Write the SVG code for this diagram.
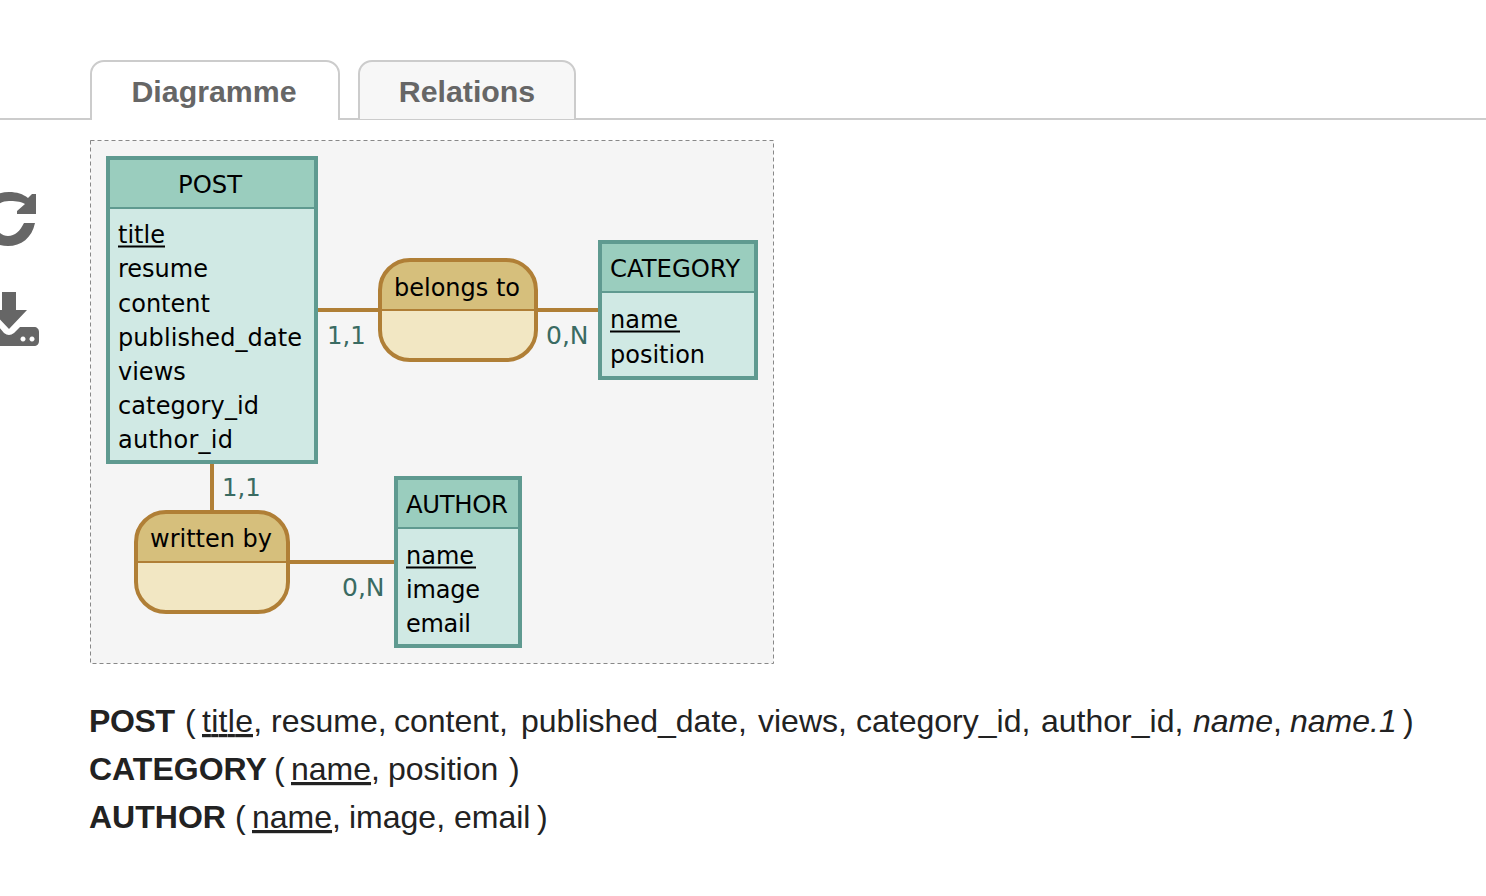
<svg xmlns="http://www.w3.org/2000/svg" width="1486" height="896" viewBox="0 0 1486 896">
<style>
.tabline{stroke:#ccc;stroke-width:2;}
.tabt{font-family:"Liberation Sans",Arial,sans-serif;font-weight:700;font-size:30.300px;fill:#666;text-anchor:middle;}
.ehead{fill:#9acdbe;}
.ebody{fill:#d0e9e4;}
.eline{stroke:#5f9a90;fill:none;}
.ahead{fill:#d6bf7c;}
.abody{fill:#f2e7c3;}
.aline{stroke:#b07f36;fill:none;}
.t{font-family:"DejaVu Sans",Verdana,sans-serif;font-size:24px;fill:#000;}
.cap{font-size:24.300px;}
.c{font-family:"DejaVu Sans",Verdana,sans-serif;font-size:25px;fill:#3a6b62;}
.c1{font-size:24.300px;}
.rel{font-family:"Liberation Sans",Arial,sans-serif;font-size:32px;fill:#222;}
.rel .b{font-weight:700;}
.rel .i{font-style:italic;}
.rel .u{text-decoration:underline;}
</style>
<rect width="1486" height="896" fill="#fff"/>
<g id="tabs">
<path d="M0 119H1486" class="tabline" fill="none"/>
<path id="tab-relations" d="M359 119V74A13 13 0 0 1 372 61H562A13 13 0 0 1 575 74V119" fill="#f7f7f7" class="tabline"/>
<path id="tab-diagramme" d="M91 120V74A13 13 0 0 1 104 61H326A13 13 0 0 1 339 74V120" fill="#fff" class="tabline"/>
<text class="tabt" x="214" y="102">Diagramme</text>
<text class="tabt" x="467" y="102">Relations</text>
</g>
<g id="icons" fill="#666">
<path d="M32 194L36 194L36 214L17 214L17 211L25 204C20 201 14 201 9 201C1 201 -6 205 -6 217H-18C-18 201 -6 192 9 192C17 192 23 194 28 198ZM35 223C32 238 21 246 8 246C-4 246 -14 240 -18 232L-6 224C-3 232 2 236 8 236C15 236 20 231 24 223Z"/>
<path d="M2 292H16V310H27L9 329L-9 310H2ZM-6 327H-1L4 333Q9 337 14 333L20 327H34C37 327 39 329 39 332V341C39 344 37 346 34 346H-6ZM23 336.500A2.500 2.500 0 1 0 23.010 336.500ZM32 336.500A2.500 2.500 0 1 0 32.010 336.500Z" fill-rule="evenodd"/>
</g>
<rect id="canvas" x="90.500" y="140.500" width="683" height="523" fill="#f5f5f5" stroke="#888" stroke-width="1" stroke-dasharray="4 3"/>
<g id="connectors" class="aline" stroke-width="4">
<path d="M316 310H600"/>
<path d="M212 462V512"/>
<path d="M288 562H396"/>
</g>
<g id="cards">
<text class="c c1" x="327" y="344">1,1</text>
<text class="c" x="546" y="344">0,N</text>
<text class="c c1" x="222" y="496">1,1</text>
<text class="c" x="342" y="596">0,N</text>
</g>
<g id="POST">
<rect class="ehead" x="108" y="158" width="208" height="50"/>
<rect class="ebody" x="108" y="208" width="208" height="254"/>
<path class="eline" stroke-width="2" d="M108 208H316"/>
<rect class="eline" stroke-width="4" x="108" y="158" width="208" height="304"/>
<text class="t cap" x="178" y="193">POST</text>
<text class="t" x="118" y="243">title</text>
<path d="M118 246.500H165" stroke="#000" stroke-width="2"/>
<text class="t" x="118" y="277">resume</text>
<text class="t" x="118" y="312">content</text>
<text class="t" x="118" y="346" textLength="184">published_date</text>
<text class="t" x="118" y="380">views</text>
<text class="t" x="118" y="414" textLength="141">category_id</text>
<text class="t" x="118" y="448" textLength="115">author_id</text>
</g>
<g id="CATEGORY">
<rect class="ehead" x="600" y="242" width="156" height="50"/>
<rect class="ebody" x="600" y="292" width="156" height="86"/>
<path class="eline" stroke-width="2" d="M600 292H756"/>
<rect class="eline" stroke-width="4" x="600" y="242" width="156" height="136"/>
<text class="t cap" x="610" y="277">CATEGORY</text>
<text class="t" x="610" y="328">name</text>
<path d="M610 331.500H680" stroke="#000" stroke-width="2"/>
<text class="t" x="610" y="362.500">position</text>
</g>
<g id="AUTHOR">
<rect class="ehead" x="396" y="478" width="124" height="50"/>
<rect class="ebody" x="396" y="528" width="124" height="118"/>
<path class="eline" stroke-width="2" d="M396 528H520"/>
<rect class="eline" stroke-width="4" x="396" y="478" width="124" height="168"/>
<text class="t cap" x="406" y="513" textLength="102">AUTHOR</text>
<text class="t" x="406" y="564">name</text>
<path d="M406 567.500H476" stroke="#000" stroke-width="2"/>
<text class="t" x="406" y="598" textLength="74">image</text>
<text class="t" x="406" y="632" textLength="65">email</text>
</g>
<g id="belongs-to">
<path class="ahead" d="M380 310V290A30 30 0 0 1 410 260H506A30 30 0 0 1 536 290V310Z"/>
<path class="abody" d="M380 310V330A30 30 0 0 0 410 360H506A30 30 0 0 0 536 330V310Z"/>
<path class="aline" stroke-width="2" d="M380 310H536"/>
<rect class="aline" stroke-width="4" x="380" y="260" width="156" height="100" rx="30"/>
<text class="t" x="394" y="295.500">belongs to</text>
</g>
<g id="written-by">
<path class="ahead" d="M136 562V542A30 30 0 0 1 166 512H258A30 30 0 0 1 288 542V562Z"/>
<path class="abody" d="M136 562V582A30 30 0 0 0 166 612H258A30 30 0 0 0 288 582V562Z"/>
<path class="aline" stroke-width="2" d="M136 562H288"/>
<rect class="aline" stroke-width="4" x="136" y="512" width="152" height="100" rx="30"/>
<text class="t" x="150" y="547">written by</text>
</g>
<g id="relations">
<text class="rel" y="732"><tspan class="b" x="89" textLength="86">POST</tspan><tspan x="185">(</tspan><tspan class="u" x="202" textLength="51">title</tspan>,<tspan x="271">resume,</tspan><tspan x="394">content,</tspan><tspan x="521">published_date,</tspan><tspan x="758">views,</tspan><tspan x="856">category_id,</tspan><tspan x="1041">author_id,</tspan><tspan class="i" x="1193">name</tspan>,<tspan class="i" x="1290">name.1</tspan><tspan x="1403">)</tspan></text>
<text class="rel" y="780"><tspan class="b" x="89">CATEGORY</tspan><tspan x="274">(</tspan><tspan class="u" x="291">name</tspan>,<tspan x="388">position</tspan><tspan x="509">)</tspan></text>
<text class="rel" y="828"><tspan class="b" x="89">AUTHOR</tspan><tspan x="235">(</tspan><tspan class="u" x="252">name</tspan>,<tspan x="349">image,</tspan><tspan x="454">email</tspan><tspan x="537">)</tspan></text>
</g>
</svg>
